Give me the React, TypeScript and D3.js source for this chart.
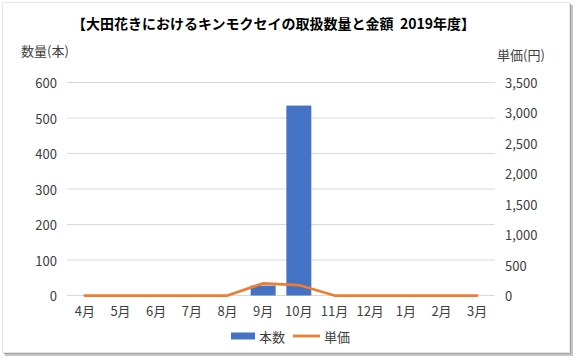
import React from 'react';
import * as d3 from 'd3';

// data
const months = ['4月', '5月', '6月', '7月', '8月', '9月', '10月', '11月', '12月', '1月', '2月', '3月'];
const counts = [0, 0, 0, 0, 0, 28, 535, 0, 0, 0, 0, 0];
const prices = [0, 0, 0, 0, 0, 200, 172, 0, 0, 0, 0, 0];
const leftTicks = [0, 100, 200, 300, 400, 500, 600];
const rightTicks = [0, 500, 1000, 1500, 2000, 2500, 3000, 3500];

const title = '【大田花きにおけるキンモクセイの取扱数量と金額  2019年度】';
const leftTitle = '数量(本)';
const rightTitle = '単価(円)';
const barLabel = '本数';
const lineLabel = '単価';

const width = 578;
const height = 363;
const plot = { left: 67, right: 495, top: 82.5, bottom: 295.5 };
const font = '"Noto Sans CJK JP", "Noto Sans", sans-serif';
const textColor = '#404040';
const blue = '#4472C4';
const orange = '#ED7D31';

export default function App() {
  const x = d3.scaleBand<string>()
    .domain(months)
    .range([plot.left, plot.right])
    .paddingInner(0.3)
    .paddingOuter(0.15);

  const yLeft = d3.scaleLinear().domain([0, 600]).range([plot.bottom, plot.top]);
  const yRight = d3.scaleLinear().domain([0, 3500]).range([plot.bottom, plot.top]);

  const cx = (m: string) => (x(m) ?? 0) + x.bandwidth() / 2;

  const pricePath = d3.line<number>()
    .x((_, i) => cx(months[i]))
    .y(d => yRight(d))(prices);

  const fmt = d3.format(',');

  return (
    <div style={{ position: 'absolute', left: 0, top: 0 }}>
      <svg width={width} height={height} style={{ display: 'block', fontFamily: font }}>
        {/* card with shadow */}
        <rect x={5} y={5} width={568} height={351} fill="#c4c4c4" />
        <rect x={4} y={4} width={567} height={350} fill="#a3a3a3" />
        <rect x={2.5} y={2.5} width={567} height={350} fill="#fff" stroke="#e6e6e6" strokeWidth={1} />

        <text x={72} y={23} dominantBaseline="central" fontSize={14} fontWeight="bold" fill="#000" style={{ whiteSpace: 'pre' }}>
          {title}
        </text>
        <text x={21} y={50} dominantBaseline="central" fontSize={13} fill={textColor}>
          {leftTitle}
        </text>
        <text x={497} y={54} dominantBaseline="central" fontSize={13} fill={textColor}>
          {rightTitle}
        </text>

        {/* gridlines + left ticks */}
        {leftTicks.map(t => (
          <g key={'l' + t}>
            <line x1={plot.left} x2={plot.right} y1={yLeft(t)} y2={yLeft(t)} stroke="#d9d9d9" strokeWidth={1} />
            <text x={57} y={yLeft(t)} textAnchor="end" dominantBaseline="central" fontSize={13} fill={textColor}>
              {t}
            </text>
          </g>
        ))}
        {rightTicks.map(t => (
          <text key={'r' + t} x={505} y={yRight(t)} dominantBaseline="central" fontSize={13} fill={textColor}>
            {fmt(t)}
          </text>
        ))}

        {/* bars */}
        {counts.map((v, i) => (
          <rect
            key={months[i]}
            x={x(months[i])}
            y={yLeft(v)}
            width={x.bandwidth()}
            height={plot.bottom - yLeft(v)}
            fill={blue}
          />
        ))}

        {/* price line */}
        <path d={pricePath ?? ''} fill="none" stroke={orange} strokeWidth={2.75} strokeLinejoin="round" strokeLinecap="round" />

        {/* month labels */}
        {months.map(m => (
          <text key={m} x={cx(m)} y={310} textAnchor="middle" dominantBaseline="central" fontSize={13} fill={textColor}>
            {m}
          </text>
        ))}

        {/* legend */}
        <rect x={231} y={332.5} width={24} height={7} fill={blue} />
        <text x={259} y={336} dominantBaseline="central" fontSize={13} fill={textColor}>{barLabel}</text>
        <line x1={293} x2={320} y1={336} y2={336} stroke={orange} strokeWidth={2.75} />
        <text x={324} y={336} dominantBaseline="central" fontSize={13} fill={textColor}>{lineLabel}</text>
      </svg>
    </div>
  );
}
